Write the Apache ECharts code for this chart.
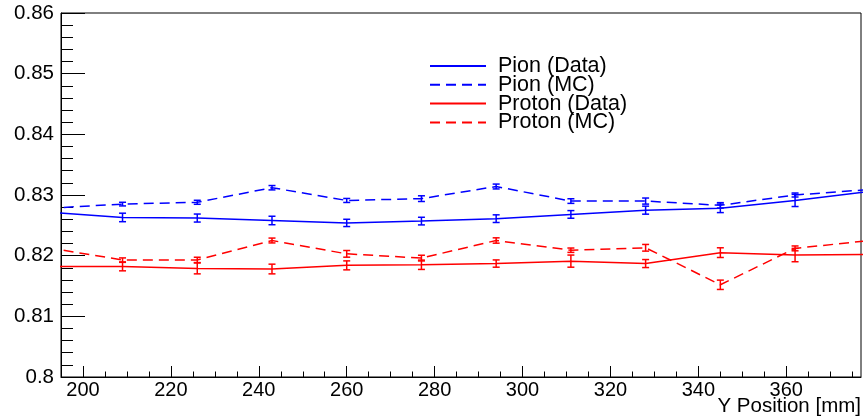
<!DOCTYPE html>
<html>
<head>
<meta charset="utf-8">
<script src="https://cdn.jsdelivr.net/npm/echarts@6/dist/echarts.min.js"></script>
<style>
html,body{margin:0;padding:0;background:#fff;}
#chart{width:864px;height:420px;}
</style>
</head>
<body>
<div id="chart"></div>
<script>
// Bin centres (Y position, mm); first and last lie just outside the visible range
const xPos = [192, 209, 226, 243, 260, 277, 294, 311, 328, 345, 362, 379];
const xMajorTicks = [200, 220, 240, 260, 280, 300, 320, 340, 360];
const xMinorTicks = [205, 210, 215, 225, 230, 235, 245, 250, 255, 265, 270, 275, 285, 290, 295, 305, 310, 315, 325, 330, 335, 345, 350, 355, 365, 370, 375];
const xTitle = 'Y Position [mm]';

const pionDataVal   = [0.8272, 0.8263, 0.8262, 0.8258, 0.8254, 0.8257, 0.8261, 0.8268, 0.8275, 0.8278, 0.8291, 0.8306];
const pionDataErr   = [0, 0.0007, 0.00066, 0.0007, 0.0006, 0.00063, 0.00063, 0.00063, 0.00066, 0.0007, 0.001, 0];
const pionMCVal     = [0.8278, 0.8285, 0.8288, 0.8312, 0.8291, 0.8294, 0.8314, 0.8290, 0.8290, 0.8283, 0.8300, 0.8309];
const pionMCErr     = [0, 0.0003, 0.00033, 0.00036, 0.00033, 0.00047, 0.0004, 0.00038, 0.0005, 0.00044, 0.00033, 0];
const protonDataVal = [0.8182, 0.8182, 0.8179, 0.8178, 0.8184, 0.8185, 0.8187, 0.8191, 0.8187, 0.8205, 0.8201, 0.8202];
const protonDataErr = [0, 0.0007, 0.0009, 0.0008, 0.00074, 0.00077, 0.0006, 0.001, 0.00066, 0.0008, 0.0011, 0];
const protonMCVal   = [0.8213, 0.8193, 0.8193, 0.8225, 0.8203, 0.8196, 0.8225, 0.8209, 0.8213, 0.8152, 0.8212, 0.8225];
const protonMCErr   = [0, 0.00033, 0.00044, 0.0004, 0.00055, 0.00047, 0.00044, 0.00036, 0.00055, 0.00077, 0.0004, 0];

const FONT = '"Liberation Sans", Arial, Helvetica, sans-serif';
const BLUE = '#0000ff';
const RED = '#ff0000';

function lineData(vals) { return xPos.map((x, i) => [x, vals[i]]); }
function errData(vals, errs) {
  const out = [];
  xPos.forEach((x, i) => { if (errs[i] > 0) out.push([x, vals[i] - errs[i], vals[i] + errs[i]]); });
  return out;
}
function errSeries(name, vals, errs, color) {
  return {
    name: name, type: 'custom', clip: true, silent: true,
    encode: { x: 0, y: [1, 2] },
    data: errData(vals, errs),
    renderItem: function (params, api) {
      const x = api.value(0);
      const lo = api.coord([x, api.value(1)]);
      const hi = api.coord([x, api.value(2)]);
      const w = 3.5;
      const st = { stroke: color, lineWidth: 1.5 };
      return {
        type: 'group',
        children: [
          { type: 'line', shape: { x1: lo[0], y1: lo[1], x2: hi[0], y2: hi[1] }, style: st },
          { type: 'line', shape: { x1: lo[0] - w, y1: lo[1], x2: lo[0] + w, y2: lo[1] }, style: st },
          { type: 'line', shape: { x1: hi[0] - w, y1: hi[1], x2: hi[0] + w, y2: hi[1] }, style: st }
        ]
      };
    },
    z: 3
  };
}
function lineSeries(name, vals, color, dashed) {
  return {
    name: name, type: 'line', data: lineData(vals), symbol: 'none', clip: true,
    lineStyle: { color: color, width: 1.5, type: dashed ? [10, 6] : 'solid' },
    itemStyle: { color: color },
    z: 2
  };
}

const chart = echarts.init(document.getElementById('chart'), null, { renderer: 'canvas' });
chart.setOption({
  animation: false,
  backgroundColor: '#ffffff',
  grid: { left: 61, right: 3, top: 13, bottom: 43, containLabel: false, outerBoundsMode: 'none',
    show: true, borderColor: '#000', borderWidth: 1, backgroundColor: 'transparent' },
  legend: {
    data: ['Pion (Data)', 'Pion (MC)', 'Proton (Data)', 'Proton (MC)'],
    orient: 'vertical', left: 429, top: 55, padding: 0,
    itemWidth: 56, itemHeight: 12, itemGap: -3.2,
    selectedMode: false,
    itemStyle: { opacity: 0 },
    textStyle: { fontFamily: FONT, fontSize: 21.5, color: '#000', padding: [0, 0, 0, 7] }
  },
  graphic: [
    { type: 'text', right: 3, top: 396, silent: true,
      style: { text: xTitle, fontFamily: FONT, fontSize: 20.5, fill: '#000' } }
  ],
  xAxis: [
    {
      type: 'value', min: 195, max: 377, position: 'bottom',
      axisLine: { show: true, onZero: false, lineStyle: { color: '#000', width: 1 } },
      axisTick: { show: true, inside: true, length: 11, customValues: xMajorTicks, lineStyle: { color: '#000', width: 1 } },
      axisLabel: { show: true, customValues: xMajorTicks, margin: 3, fontFamily: FONT, fontSize: 20, color: '#000' },
      splitLine: { show: false }
    },
    {
      type: 'value', min: 195, max: 377, position: 'bottom', gridIndex: 0,
      axisLine: { show: false, onZero: false },
      axisTick: { show: true, inside: true, length: 5.5, customValues: xMinorTicks, lineStyle: { color: '#000', width: 1 } },
      axisLabel: { show: false },
      splitLine: { show: false }
    }
  ],
  yAxis: {
    type: 'value', min: 0.8, max: 0.86, interval: 0.01,
    axisLine: { show: true, onZero: false, lineStyle: { color: '#000', width: 1 } },
    axisTick: { show: true, inside: true, length: 24, lineStyle: { color: '#000', width: 1 } },
    minorTick: { show: true, splitNumber: 5, length: 12, lineStyle: { color: '#000', width: 1 } },
    axisLabel: { margin: 7, fontFamily: FONT, fontSize: 20.5, color: '#000',
      formatter: function (v) { return String(Math.round(v * 100) / 100); } },
    splitLine: { show: false }
  },
  series: [
    lineSeries('Pion (Data)', pionDataVal, BLUE, false),
    lineSeries('Pion (MC)', pionMCVal, BLUE, true),
    lineSeries('Proton (Data)', protonDataVal, RED, false),
    lineSeries('Proton (MC)', protonMCVal, RED, true),
    errSeries('errPionData', pionDataVal, pionDataErr, BLUE),
    errSeries('errPionMC', pionMCVal, pionMCErr, BLUE),
    errSeries('errProtonData', protonDataVal, protonDataErr, RED),
    errSeries('errProtonMC', protonMCVal, protonMCErr, RED)
  ]
});
</script>
</body>
</html>
